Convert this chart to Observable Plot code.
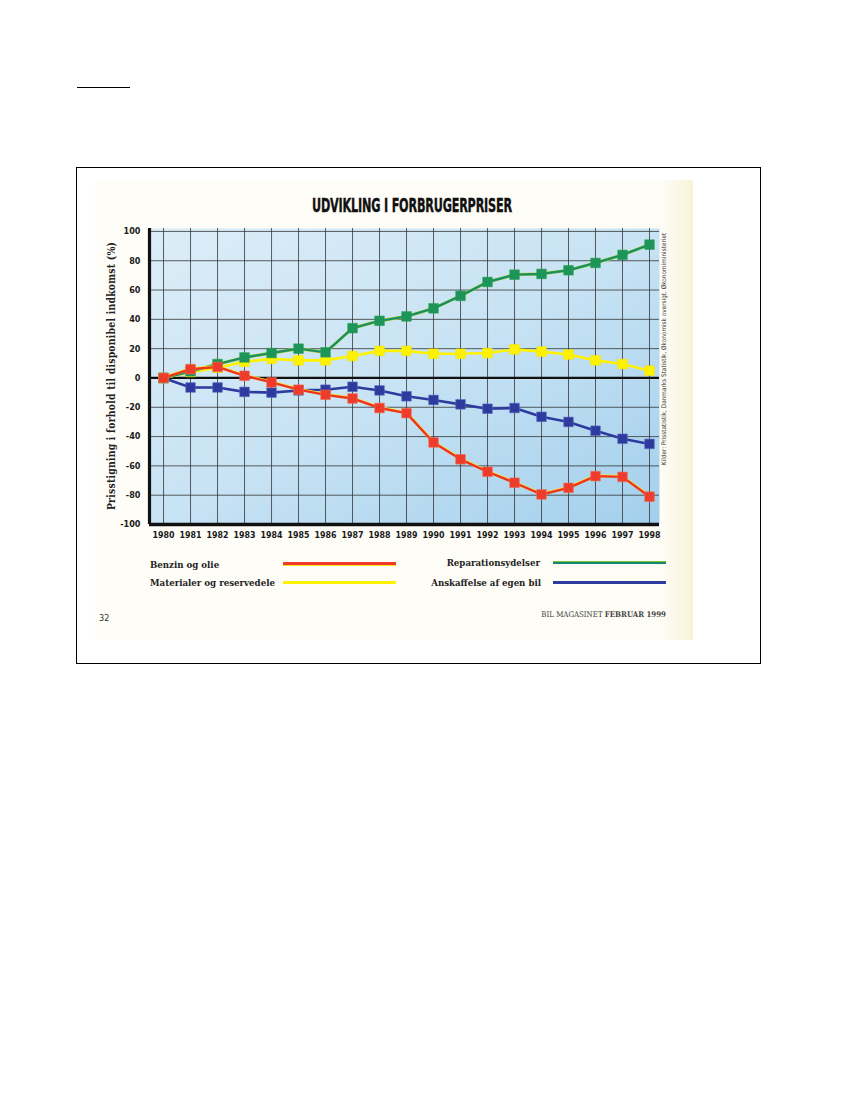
<!DOCTYPE html>
<html>
<head>
<meta charset="utf-8">
<script src="https://cdn.jsdelivr.net/npm/d3@7"></script>
<script src="https://cdn.jsdelivr.net/npm/@observablehq/plot@0.6"></script>
<style>
  html, body { margin: 0; padding: 0; background: #fff; }
  body { width: 850px; height: 1100px; position: relative; overflow: hidden; }
  .abs { position: absolute; }
  #topline { left: 77px; top: 87px; width: 53px; height: 0; border-top: 1.3px solid #000; }
  #box { left: 76px; top: 167px; width: 683px; height: 495px; border: 1px solid #000; }
  #scan { left: 95px; top: 180px; width: 598px; height: 460px;
          background: linear-gradient(90deg, #fefdf8 0%, #fdfcf5 95%, #f9f3d6 100%); }
  #title { left: 258px; width: 300px; top: 194px; text-align: center;
           font-family: "DejaVu Sans Condensed", "DejaVu Sans", sans-serif; font-weight: bold;
           font-size: 19.5px; color: #111; transform: scaleX(0.64); transform-origin: 50% 50%; white-space: nowrap; letter-spacing: -0.3px; -webkit-text-stroke: 0.4px #111; }
  #ylabel { left: 111px; top: 376px; transform: translate(-50%, -50%) rotate(-90deg);
            font-family: "DejaVu Serif Condensed", "DejaVu Serif", serif; font-weight: bold; font-size: 10.4px; color: #222; white-space: nowrap; letter-spacing: 0.2px; }
  #source { left: 664px; top: 349px; transform: translate(-50%, -50%) rotate(-90deg);
            font-family: "DejaVu Sans Condensed", "DejaVu Sans", sans-serif; font-size: 6.4px; color: #333; white-space: nowrap; }
  .leg { font-family: "DejaVu Serif Condensed", "DejaVu Serif", serif; font-weight: bold; font-size: 9.6px; color: #222; white-space: nowrap; }
  .legline { height: 3px; }
  #footL { left: 99px; top: 613px; font-family: "DejaVu Sans Condensed", sans-serif; font-size: 9px; color: #333; }
  #footR { right: 184px; top: 610px; font-family: "DejaVu Serif Condensed", "DejaVu Serif", serif; font-size: 7.8px; color: #444; white-space: nowrap; }
  #chart { left: 95px; top: 218px; }
</style>
</head>
<body>
<div id="topline" class="abs"></div>
<div id="box" class="abs"></div>
<div id="scan" class="abs"></div>
<div id="title" class="abs">UDVIKLING I FORBRUGERPRISER</div>
<div id="ylabel" class="abs">Prisstigning i forhold til disponibel indkomst (%)</div>
<div id="source" class="abs">Kilder: Prisstatistik, Danmarks Statistik, Økonomisk oversigt, Økonomiministeriet</div>
<div id="chart" class="abs"></div>
<div id="legend"></div>
<div id="footL" class="abs">32</div>
<div id="footR" class="abs">BIL MAGASINET <b>FEBRUAR 1999</b></div>
<script>
const years = [1980, 1981, 1982, 1983, 1984, 1985, 1986, 1987, 1988, 1989, 1990, 1991, 1992, 1993, 1994, 1995, 1996, 1997, 1998];
const benzin = [0, 6, 7.5, 1.5, -3, -8, -11.5, -14, -20.5, -24, -44, -55.5, -64, -71.5, -79.5, -75, -67, -67.5, -81];
const materialer = [0, 4, 7, 11, 13, 12, 12, 15, 18.5, 18.5, 16.5, 16.5, 17, 19.5, 18, 16, 12, 9.5, 5];
const reparation = [0, 4.5, 9.5, 14, 17, 20, 17.5, 34, 39, 42, 47.5, 56, 65.5, 70.5, 71, 73.5, 78.5, 84, 91];
const anskaffelse = [0, -6.5, -6.5, -9.5, -10, -8.5, -8, -6, -8.5, -12.5, -15, -18, -21, -20.5, -26.5, -30, -36, -41.5, -45];
const yTicks = [-100, -80, -60, -40, -20, 0, 20, 40, 60, 80, 100];

const seriesNames = ["Benzin og olie", "Materialer og reservedele", "Reparationsydelser", "Anskaffelse af egen bil"];
const seriesColors = ["#ee3b2b", "#fff200", "#1a8f66", "#2e3b9e"];

const table = (vals) => years.map((y, i) => ({year: y, value: vals[i]}));
const red = table(benzin), yellow = table(materialer), green = table(reparation), blue = table(anskaffelse);

const sq = 5.4;
const chart = Plot.plot({
  width: 598,
  height: 330,
  marginLeft: 54,
  marginRight: 34,
  marginTop: 10,
  marginBottom: 24,
  x: {domain: [1979.48, 1998.37], axis: null},
  y: {domain: [-100, 102], axis: null},
  style: {background: "transparent", overflow: "visible"},
  marks: [
    Plot.frame({fill: "url(#bggrad)", stroke: "none"}),
    Plot.gridY(yTicks.filter(d => d !== 0 && d !== -100), {stroke: "#2e2e2e", strokeOpacity: 0.85, strokeWidth: 0.9}),
    Plot.gridX(years, {stroke: "#2e2e2e", strokeOpacity: 0.85, strokeWidth: 0.9}),
    Plot.ruleY([0], {stroke: "#111", strokeWidth: 2.2}),
    Plot.ruleY([-100], {stroke: "#111", strokeWidth: 3.5}),
    Plot.ruleX([1979.48], {stroke: "#111", strokeWidth: 3.2}),
    Plot.axisY(yTicks, {label: null, tickSize: 0, tickPadding: 9, fontSize: 9, fontWeight: "bold", fontFamily: "DejaVu Sans Condensed", fill: "#1a1a1a", tickFormat: d => String(d)}),
    Plot.axisX(years, {label: null, tickSize: 0, tickPadding: 7, fontSize: 8.8, fontWeight: "bold", fontFamily: "DejaVu Sans Condensed", fill: "#1a1a1a", tickFormat: d => String(d)}),
    Plot.line(blue, {x: "year", y: "value", stroke: "#2e3b9e", strokeWidth: 2.6}),
    Plot.dot(blue, {x: "year", y: "value", symbol: "square", r: sq, fill: "#2e3b9e", stroke: "#5a64c0", strokeWidth: 0.6}),
    Plot.line(yellow, {x: "year", y: "value", stroke: "#fff200", strokeWidth: 2.6}),
    Plot.dot(yellow, {x: "year", y: "value", symbol: "square", r: sq, fill: "#fff200", stroke: "#f5e600", strokeWidth: 0.6}),
    Plot.line(green, {x: "year", y: "value", stroke: "#b9dc2a", strokeWidth: 3.2}),
    Plot.line(green, {x: "year", y: "value", stroke: "#1a8f66", strokeWidth: 2.4}),
    Plot.dot(green, {x: "year", y: "value", symbol: "square", r: sq, fill: "#1d9459", stroke: "#2aa04a", strokeWidth: 0.6}),
    Plot.line(red, {x: "year", y: "value", stroke: "#f8e62a", strokeWidth: 3.1, dy: -0.4}),
    Plot.line(red, {x: "year", y: "value", stroke: "#ee3224", strokeWidth: 2.4}),
    Plot.dot(red, {x: "year", y: "value", symbol: "square", r: sq, fill: "#ee3b2b", stroke: "#f06a4a", strokeWidth: 0.6})
  ]
});
const ns = "http://www.w3.org/2000/svg";
const defs = document.createElementNS(ns, "defs");
defs.innerHTML = '<linearGradient id="bggrad" x1="0" y1="0" x2="1" y2="1">' +
  '<stop offset="0" stop-color="#dcedf8"/><stop offset="0.5" stop-color="#c8e3f4"/><stop offset="1" stop-color="#a3cfec"/></linearGradient>';
chart.insertBefore(defs, chart.firstChild);
document.getElementById("chart").appendChild(chart);

const legPos = [
  {tx: 150, ty: 559, align: "left", lx: 283, ly: 562},
  {tx: 150, ty: 577, align: "left", lx: 283, ly: 581},
  {tx: 540, ty: 557, align: "right", lx: 553, ly: 561},
  {tx: 541, ty: 577, align: "right", lx: 553, ly: 581}
];
const legend = document.getElementById("legend");
seriesNames.forEach((name, i) => {
  const p = legPos[i];
  const t = document.createElement("div");
  t.className = "abs leg";
  t.textContent = name;
  t.style.top = p.ty + "px";
  if (p.align === "left") t.style.left = p.tx + "px";
  else t.style.right = (850 - p.tx) + "px";
  legend.appendChild(t);
  const l = document.createElement("div");
  l.className = "abs legline";
  l.style.left = p.lx + "px";
  l.style.top = p.ly + "px";
  l.style.width = "113px";
  l.style.background = seriesColors[i];
  if (i === 0) l.style.boxShadow = "0 1px 0 #f6e21a";
  if (i === 2) l.style.background = "linear-gradient(180deg, #b8d820 0%, #1a9262 45%, #157a7a 100%)";
  legend.appendChild(l);
});
</script>
</body>
</html>
